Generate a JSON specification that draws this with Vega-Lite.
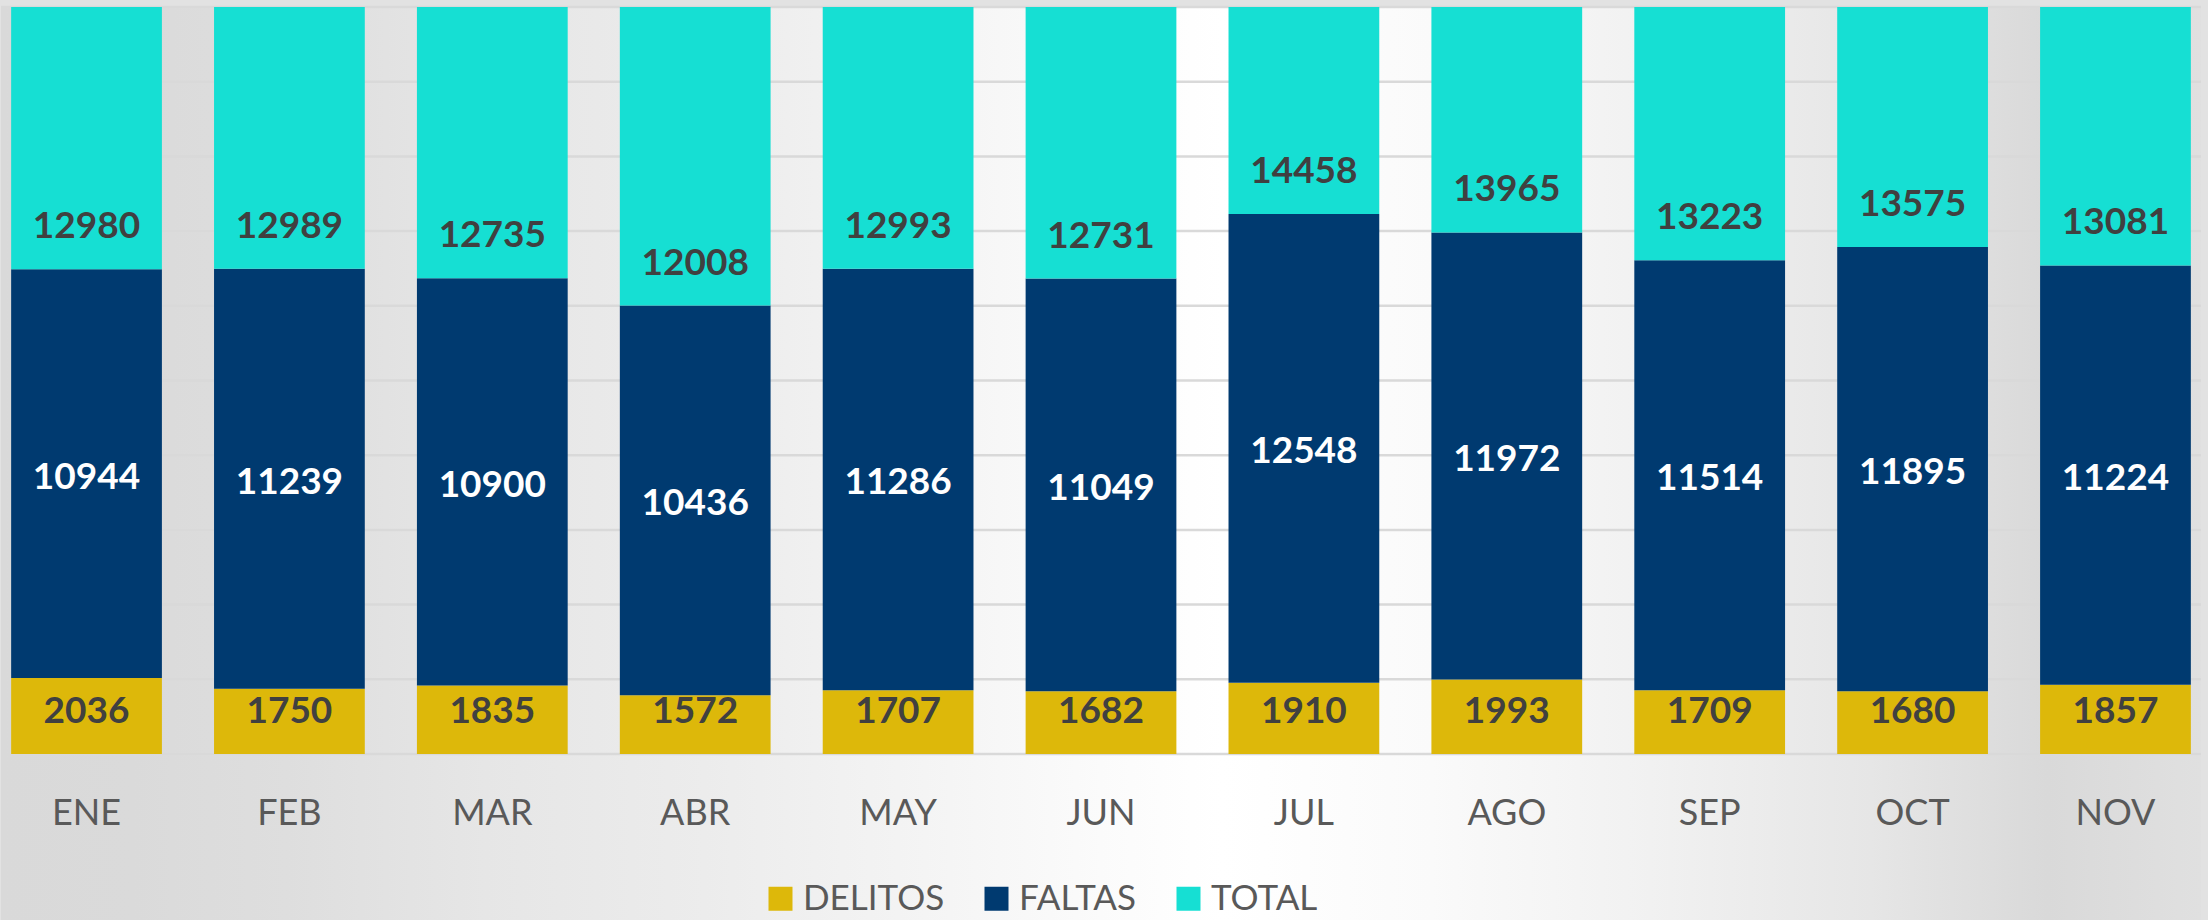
{
  "$schema": "https://vega.github.io/schema/vega-lite/v6.json",
  "width": 2200,
  "height": 913,
  "autosize": {"type": "none"},
  "padding": {"left": 1, "right": 7, "top": 7, "bottom": 0},
  "background": "#e2e2e2",
  "datasets": {
    "months": [
      {"mes": "ENE", "DELITOS": 2036, "FALTAS": 10944, "TOTAL": 12980},
      {"mes": "FEB", "DELITOS": 1750, "FALTAS": 11239, "TOTAL": 12989},
      {"mes": "MAR", "DELITOS": 1835, "FALTAS": 10900, "TOTAL": 12735},
      {"mes": "ABR", "DELITOS": 1572, "FALTAS": 10436, "TOTAL": 12008},
      {"mes": "MAY", "DELITOS": 1707, "FALTAS": 11286, "TOTAL": 12993},
      {"mes": "JUN", "DELITOS": 1682, "FALTAS": 11049, "TOTAL": 12731},
      {"mes": "JUL", "DELITOS": 1910, "FALTAS": 12548, "TOTAL": 14458},
      {"mes": "AGO", "DELITOS": 1993, "FALTAS": 11972, "TOTAL": 13965},
      {"mes": "SEP", "DELITOS": 1709, "FALTAS": 11514, "TOTAL": 13223},
      {"mes": "OCT", "DELITOS": 1680, "FALTAS": 11895, "TOTAL": 13575},
      {"mes": "NOV", "DELITOS": 1857, "FALTAS": 11224, "TOTAL": 13081}
    ],
    "grid": [
      {"g": 0}, {"g": 2000}, {"g": 4000}, {"g": 6000}, {"g": 8000}, {"g": 10000},
      {"g": 12000}, {"g": 14000}, {"g": 16000}, {"g": 18000}, {"g": 20000}
    ]
  },
  "layer": [
    {
      "data": {"values": [{"bg": 1}]},
      "mark": {
        "type": "rect",
        "fill": {
          "gradient": "linear",
          "x1": 0, "y1": 0, "x2": 1, "y2": 0,
          "stops": [
            {"offset": 0, "color": "#d9d9d9"},
            {"offset": 0.06, "color": "#dadada"},
            {"offset": 0.13, "color": "#dedede"},
            {"offset": 0.22, "color": "#e6e6e6"},
            {"offset": 0.32, "color": "#ececec"},
            {"offset": 0.42, "color": "#f4f4f4"},
            {"offset": 0.5, "color": "#fbfbfb"},
            {"offset": 0.555, "color": "#ffffff"},
            {"offset": 0.65, "color": "#fafafa"},
            {"offset": 0.75, "color": "#f1f1f1"},
            {"offset": 0.85, "color": "#e6e6e6"},
            {"offset": 0.93, "color": "#d9d9d9"},
            {"offset": 1, "color": "#e0e0e0"}
          ]
        }
      },
      "encoding": {}
    },
    {
      "data": {"name": "grid"},
      "mark": {"type": "rule", "color": "#d9d9d9", "strokeWidth": 2.5},
      "encoding": {
        "y": {"field": "g", "type": "quantitative", "axis": null}
      }
    },
    {
      "data": {"name": "months"},
      "transform": [{"fold": ["DELITOS", "FALTAS", "TOTAL"], "as": ["cat", "value"]}],
      "mark": {"type": "bar", "clip": true},
      "encoding": {
        "x": {
          "field": "mes", "type": "nominal", "sort": null,
          "scale": {"paddingInner": 0.257, "paddingOuter": 0.05},
          "axis": {
            "title": null, "domain": false, "ticks": false, "tickSize": 0, "grid": false, "zindex": 2,
            "labelPadding": 0, "offset": -124, "labelAngle": 0,
            "labelFont": "Lato", "labelFontSize": 36, "labelColor": "#595959"
          }
        },
        "y": {
          "field": "value", "type": "quantitative", "stack": "zero", "axis": null,
          "scale": {"domain": [-4444, 20000], "nice": false, "zero": false}
        },
        "color": {
          "field": "cat", "type": "nominal", "title": null,
          "scale": {"domain": ["DELITOS", "FALTAS", "TOTAL"], "range": ["#DDB80A", "#003A70", "#16DFD3"]}
        },
        "order": {"field": "cat", "type": "nominal", "sort": "ascending"}
      }
    },
    {
      "data": {"name": "months"},
      "transform": [{"fold": ["DELITOS", "FALTAS", "TOTAL"], "as": ["cat", "value"]}],
      "mark": {"type": "text", "font": "Lato", "fontWeight": "bold", "fontSize": 37, "baseline": "middle", "dy": -42, "color": "#404040"},
      "encoding": {
        "x": {"field": "mes", "type": "nominal", "sort": null},
        "y": {"field": "value", "type": "quantitative", "stack": "zero", "bandPosition": 0, "axis": null},
        "detail": {"field": "cat", "type": "nominal"},
        "order": {"field": "cat", "type": "nominal", "sort": "ascending"},
        "text": {"condition": {"test": "datum.cat === 'FALTAS'", "value": ""}, "field": "value", "type": "quantitative"}
      }
    },
    {
      "data": {"name": "months"},
      "transform": [{"fold": ["DELITOS", "FALTAS", "TOTAL"], "as": ["cat", "value"]}],
      "mark": {"type": "text", "font": "Lato", "fontWeight": "bold", "fontSize": 37, "baseline": "middle", "dy": 4, "color": "#ffffff"},
      "encoding": {
        "x": {"field": "mes", "type": "nominal", "sort": null},
        "y": {"field": "value", "type": "quantitative", "stack": "zero", "bandPosition": 0.5, "axis": null},
        "detail": {"field": "cat", "type": "nominal"},
        "order": {"field": "cat", "type": "nominal", "sort": "ascending"},
        "text": {"condition": {"test": "datum.cat !== 'FALTAS'", "value": ""}, "field": "value", "type": "quantitative"}
      }
    }
  ],
  "config": {
    "view": {"stroke": null},
    "legend": {
      "orient": "none", "direction": "horizontal", "legendX": 762, "legendY": 874,
      "padding": 0, "symbolType": "square", "symbolSize": 576, "symbolStrokeWidth": 0,
      "symbolOpacity": 1, "labelFont": "Lato", "labelFontSize": 35, "labelColor": "#595959",
      "labelOffset": 5, "columnPadding": 34, "title": null
    }
  }
}
